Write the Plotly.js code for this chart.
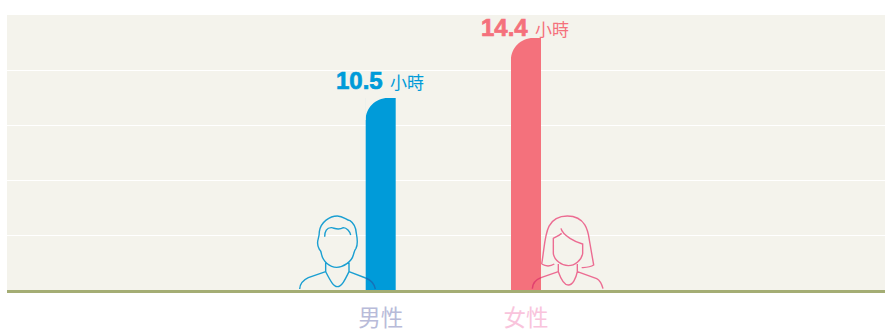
<!DOCTYPE html>
<html><head><meta charset="utf-8">
<script src="https://cdn.plot.ly/plotly-3.0.1.min.js"></script>
<style>html,body{margin:0;padding:0;background:#fff}
g.annotation[data-index="0"] text{stroke:#009bd9;stroke-width:.7px}
g.annotation[data-index="2"] text{stroke:#f4717c;stroke-width:.7px}
</style>
</head><body><div id="chart" style="width:885px;height:333px"></div>
<script>
const categories = ['男性', '女性'];
const barHeights = [10.47, 13.75];
const valueLabels = ['10.5', '14.4'];
const unitLabel = '小時';
const barColors = ['#009bd9', '#f4717c'];
const labelColors = ['#b8bbd9', '#f9c4dc'];

const BG = '#f4f3ec', UNIT = 145.3, BARW = 30;
const xRange = [-(380.7 - 7) / UNIT, (885 - 380.7) / UNIT];

// Convert an outline traced in crop coordinates to pixels relative to the anchor
function loc(d, ox, oy, cx) {
  return d.replace(/(-?[\d.]+),(-?[\d.]+)/g, (m, a, b) =>
    (ox + a / 3 - cx).toFixed(2) + ',' + (290 - (oy + b / 3)).toFixed(2));
}
function iconShape(d, cat, color, cx, ox) {
  return {type: 'path', layer: 'above', xref: 'x', yref: 'y', xsizemode: 'pixel', ysizemode: 'pixel',
    xanchor: cat, yanchor: 0, path: loc(d, ox, 190, cx), line: {color: color, width: 1.4}, fillcolor: 'rgba(0,0,0,0)'};
}
const malePaths = 'M118,178 C113,170 112,155 115,145 C117,138 118,130 118,125 C122,95 150,78 172,78 C190,78 198,90 210,92 C222,100 228,115 229,130 C232,145 233,165 228,175 C222,182 222,190 220,195 C215,215 190,232 170,232 C150,232 128,215 124,190 C123,183 122,182 118,178 ' +
  'M134,140 C134,125 140,112 155,113 C165,115 175,122 190,113 C200,113 210,125 212,135 ' +
  'M137,218 L137,245 M207,218 L207,245 ' +
  'M137,245 C150,270 160,290 172,290 C185,290 195,270 207,245 ' +
  'M137,245 L85,263 C70,270 60,280 59,297 M207,245 L257,264';
const maleOver = 'M257,264 C272,270 283,282 286,297';
const femalePaths = 'M155,222 C168,150 160,78 232,78 C290,78 295,130 298,150 L311,225 C300,232 290,232 275,233 ' +
  'M155,222 C165,228 180,230 193,222 ' +
  'M213,115 C215,125 225,135 240,145 C255,155 265,158 278,162 L278,190 C275,210 255,227 235,227 C215,227 192,210 190,190 L190,145 C195,142 205,138 215,130 ' +
  'M205,222 L205,245 M262,222 L262,245 ' +
  'M205,245 C212,265 222,285 235,285 C248,285 258,265 262,245 ' +
  'M205,245 L153,263 M262,245 L320,266 C332,272 336,285 339,296';
const femaleOver = 'M153,263 C140,268 128,278 127,296';

// One rounded top-left corner, painted in the plot colour over a plain bar
function cornerMask(cat, val) {
  const l = -BARW / 2, r = 22, k = r * 0.448, e = 0.6;
  return {type: 'path', layer: 'above', xref: 'x', yref: 'y', xsizemode: 'pixel', ysizemode: 'pixel',
    xanchor: cat, yanchor: val,
    path: `M${l - e},${e} L${l + r},${e} L${l + r},0 C${l + k},0 ${l},${-k} ${l},${-r} L${l - e},${-r} Z`,
    line: {width: 0}, fillcolor: BG};
}

const shapes = [
  cornerMask(categories[0], barHeights[0]),
  cornerMask(categories[1], barHeights[1]),
  iconShape(malePaths, categories[0], '#1a9fd2', 380.7, 280),
  iconShape(maleOver, categories[0], '#1672b8', 380.7, 280),
  iconShape(femalePaths, categories[1], '#ec6c92', 526, 490),
  iconShape(femaleOver, categories[1], '#e2406f', 526, 490)
];

const labelShift = [18, 10];
const unitShift = [7.5, 7];
const annotations = [];
categories.forEach((c, i) => {
  annotations.push({x: c, y: barHeights[i], xref: 'x', yref: 'y', showarrow: false, text: '<b>' + valueLabels[i] + '</b>',
    xanchor: 'left', yanchor: 'middle', xshift: -47, yshift: labelShift[i],
    font: {family: 'Liberation Sans, Arial, sans-serif', size: 24, color: barColors[i]}});
  annotations.push({x: c, y: barHeights[i], xref: 'x', yref: 'y', showarrow: false, text: unitLabel,
    xanchor: 'left', yanchor: 'middle', xshift: unitShift[i], yshift: labelShift[i] - 1,
    font: {family: '"Noto Sans CJK TC", sans-serif', size: 17, color: barColors[i]}});
});

Plotly.newPlot('chart', [{
  type: 'bar', x: categories, y: barHeights, width: BARW / UNIT,
  marker: {color: barColors, line: {width: 0}}, hoverinfo: 'x+y'
}], {
  width: 885, height: 333, margin: {l: 7, r: 0, t: 15, b: 43},
  paper_bgcolor: '#ffffff', plot_bgcolor: BG, showlegend: false,
  xaxis: {type: 'category', range: xRange, showgrid: false, zeroline: false,
    showline: true, linecolor: '#a4ad74', linewidth: 3, ticks: '', tickmode: 'array',
    tickvals: categories, ticklabelstandoff: 6,
    ticktext: categories.map((c, i) => `<span style="color:${labelColors[i]}">${c}</span>`),
    tickfont: {family: '"Noto Sans CJK TC", sans-serif', size: 22.5, color: labelColors[0]}},
  yaxis: {range: [0, 15], dtick: 3, showgrid: true, gridcolor: '#ffffff', gridwidth: 1,
    zeroline: false, showticklabels: false, ticks: '', showline: false},
  shapes: shapes, annotations: annotations
}, {displayModeBar: false, staticPlot: true});
</script></body></html>
